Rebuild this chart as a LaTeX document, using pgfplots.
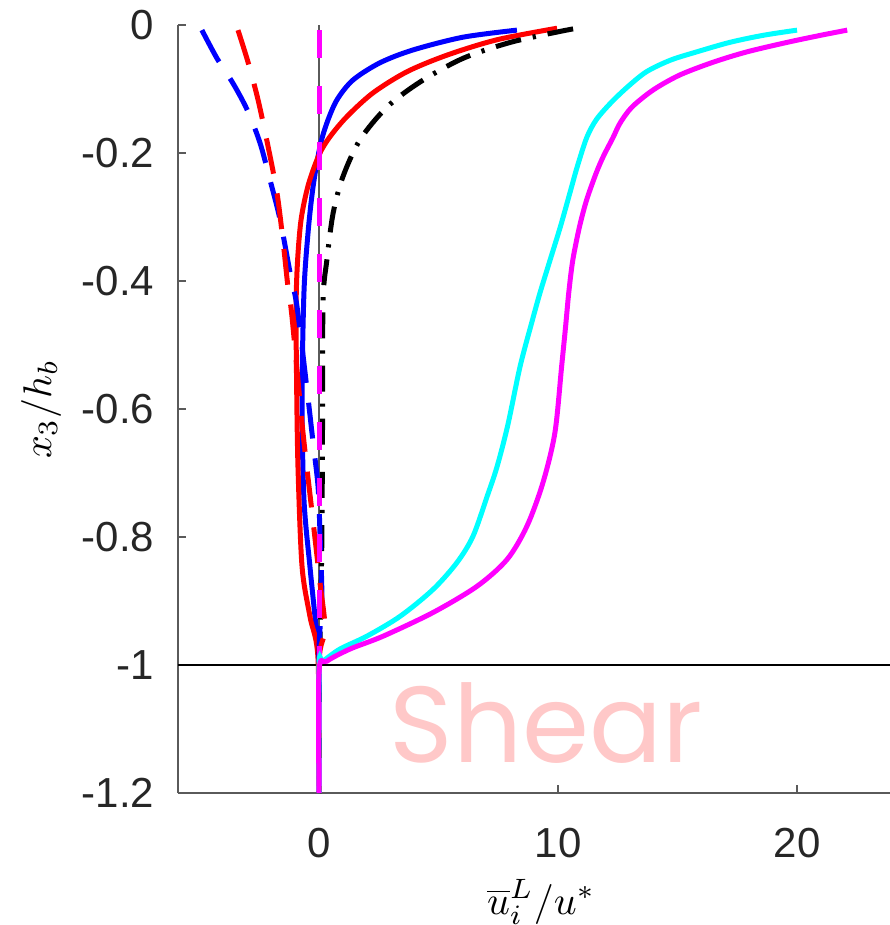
\documentclass[border=0pt]{standalone}
\usepackage{pgfplots}
\pgfplotsset{compat=1.18}
\usepackage{fontspec}
\setmainfont{Liberation Sans}
\newfontfamily\shearfont{Poppins}
\definecolor{axgray}{RGB}{90,90,90}
\definecolor{pinktxt}{RGB}{255,200,200}
\definecolor{pblue}{RGB}{0,0,255}
\definecolor{pred}{RGB}{255,0,0}
\definecolor{pcyan}{RGB}{0,255,255}
\definecolor{pmag}{RGB}{255,0,255}
\begin{document}
\begin{tikzpicture}
\useasboundingbox (-44.5pt,-33pt) rectangle (178pt,198.25pt);
\begin{axis}[
  scale only axis, width=178pt, height=192pt,
  at={(0,0)}, anchor=south west,
  xmin=-5.9, xmax=23.89, ymin=-1.2, ymax=0,
  axis x line=bottom, axis y line=left,
  axis line style={-, axgray, line width=0.5pt},
  xtick={0,10,20}, xticklabels={0,10,20},
  ytick={-1.2,-1,-0.8,-0.6,-0.4,-0.2,0},
  yticklabels={-1.2,-1,-0.8,-0.6,-0.4,-0.2,0},
  tick align=inside, major tick length=2pt,
  tick style={axgray, line width=0.5pt},
  ticklabel style={font=\fontsize{10.5}{12}\selectfont, text=black!85, inner sep=0pt},
  xticklabel style={anchor=north, yshift=-8.5pt},
  yticklabel style={anchor=east, xshift=-5.75pt},
  xlabel={$\overline{u}_i^L/u^*$}, ylabel={$x_3/h_b$},
  label style={font=\fontsize{12.5}{14}\selectfont, text=black!85, inner sep=0pt},
  every axis x label/.style={at={(axis description cs:0.51,-0.142)}, anchor=center},
  every axis y label/.style={at={(axis description cs:-0.1924,0.5)}, anchor=center, rotate=90},
  clip=false,
]
% reference lines
\addplot[axgray, line width=0.4pt] coordinates {(0,0) (0,-1.2)};
\addplot[black, line width=0.5pt] coordinates {(-5.9,-1) (23.89,-1)};
% blue solid
\addplot[pblue, line width=1.25pt, smooth] coordinates {
(8.28,-0.008) (6.03,-0.019) (3.93,-0.039) (2.55,-0.059) (1.42,-0.086) (0.75,-0.117)
(0.33,-0.153) (0.04,-0.190) (-0.25,-0.253) (-0.46,-0.325) (-0.63,-0.418) (-0.71,-0.585)
(-0.63,-0.741) (-0.38,-0.846) (-0.17,-0.924) (0,-0.995) (0,-1.2)};
% red solid
\addplot[pred, line width=1.25pt, smooth] coordinates {
(9.96,-0.005) (7.45,-0.023) (5.36,-0.047) (3.68,-0.073) (2.26,-0.106) (1.17,-0.143)
(0.45,-0.175) (0.0,-0.203) (-0.45,-0.250) (-0.75,-0.304) (-0.90,-0.370) (-0.96,-0.440)
(-0.94,-0.55) (-0.88,-0.690) (-0.71,-0.846) (-0.38,-0.924) (-0.04,-0.991) (0,-1.2)};
% black dash-dot
\addplot[black, line width=1.25pt, smooth, dash pattern=on 6.5pt off 3pt on 0.8pt off 3pt] coordinates {
(10.63,-0.006) (8.12,-0.026) (6.03,-0.052) (4.23,-0.089) (2.85,-0.128) (1.72,-0.179)
(1.0,-0.237) (0.59,-0.294) (0.33,-0.367) (0.17,-0.429) (0.15,-0.6) (0.12,-0.8) (0.05,-0.95) (0,-1) (0,-1.2)};
% blue dashed
\addplot[pblue, line width=1.25pt, smooth, dash pattern=on 9pt off 5pt] coordinates {
(-4.9,-0.008) (-4.27,-0.052) (-3.6,-0.091) (-3.0,-0.133) (-2.47,-0.184) (-2.05,-0.242)
(-1.63,-0.304) (-1.21,-0.387) (-0.92,-0.44) (-0.5,-0.570) (-0.25,-0.652) (-0.04,-0.721)
(0.04,-0.793) (0.12,-0.897) (0,-0.98) (0,-1.2)};
% red dashed
\addplot[pred, line width=1.25pt, smooth, dash pattern=on 9pt off 5pt] coordinates {
(-3.39,-0.008) (-2.97,-0.058) (-2.55,-0.117) (-2.13,-0.190) (-1.76,-0.262) (-1.51,-0.336)
(-1.30,-0.409) (-1.13,-0.456) (-0.67,-0.637) (-0.29,-0.762) (0.04,-0.871) (0.25,-0.944)
(0,-0.996) (0,-1.2)};
% magenta dashed
\addplot[pmag, line width=1.25pt, dash pattern=on 7pt off 7pt] coordinates {(0,-0.008) (0,-1.2)};
% cyan solid
\addplot[pcyan, line width=1.25pt, smooth] coordinates {
(20.0,-0.008) (18.6,-0.016) (17.2,-0.027) (15.8,-0.042) (14.7,-0.055) (13.7,-0.073)
(12.9,-0.097) (12.2,-0.122) (11.6,-0.148) (11.2,-0.176) (10.8,-0.222) (10.5,-0.262)
(10.1,-0.315) (9.67,-0.367) (9.25,-0.418) (8.9,-0.465) (8.41,-0.534) (7.9,-0.625)
(7.45,-0.69) (7.03,-0.737) (6.44,-0.799) (5.77,-0.840) (4.77,-0.882) (3.39,-0.924)
(2.0,-0.955) (0.88,-0.975) (0.17,-0.994) (0,-1.0) (0,-1.2)};
% magenta solid
\addplot[pmag, line width=1.25pt, smooth] coordinates {
(22.1,-0.008) (21.0,-0.016) (19.6,-0.027) (17.9,-0.042) (16.5,-0.058) (15.1,-0.078)
(14.0,-0.101) (13.1,-0.128) (12.6,-0.153) (12.3,-0.176) (11.9,-0.205) (11.6,-0.231)
(11.2,-0.273) (10.9,-0.315) (10.62,-0.367) (10.45,-0.418) (10.32,-0.47) (10.15,-0.534)
(9.87,-0.637) (9.37,-0.715) (8.7,-0.783) (7.87,-0.835) (6.61,-0.877) (4.77,-0.918)
(2.68,-0.955) (1.30,-0.975) (0.33,-0.994) (0,-1.01) (0,-1.2)};
\node[anchor=base, text=pinktxt, font=\shearfont\fontsize{27}{30}\selectfont] at (axis cs:9.5,-1.152) {Shear};
\end{axis}
\end{tikzpicture}
\end{document}
